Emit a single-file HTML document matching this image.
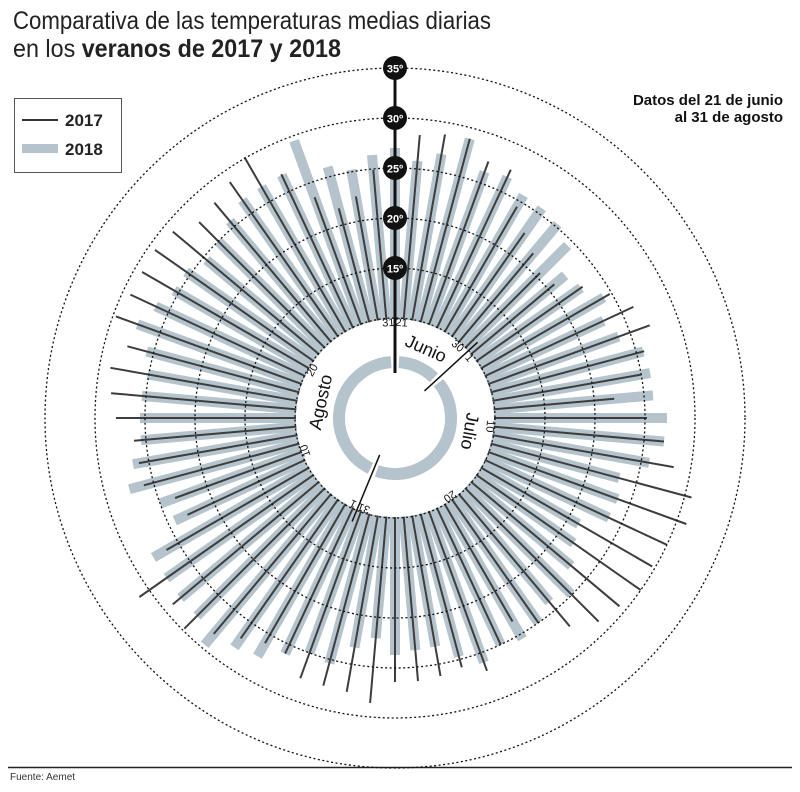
<!DOCTYPE html>
<html><head><meta charset="utf-8">
<style>
html,body{margin:0;padding:0;background:#fff;}
body{width:800px;height:792px;overflow:hidden;position:relative;font-family:"Liberation Sans",sans-serif;}
</style></head>
<body>
<svg id="s" width="800" height="792" viewBox="0 0 800 792" xmlns="http://www.w3.org/2000/svg" style="position:absolute;left:0;top:0">
<text x="13" y="29" font-size="25" fill="#222" font-family="Liberation Sans, sans-serif" style="font-weight:300" textLength="478" lengthAdjust="spacingAndGlyphs">Comparativa de las temperaturas medias diarias</text>
<text x="13" y="57" font-size="25" fill="#222" font-family="Liberation Sans, sans-serif" textLength="328" lengthAdjust="spacingAndGlyphs">en los <tspan font-weight="bold">veranos de 2017 y 2018</tspan></text>
<rect x="14.5" y="98.5" width="107" height="74" fill="none" stroke="#555" stroke-width="1"/>
<line x1="22" y1="120" x2="58" y2="120" stroke="#333" stroke-width="2"/>
<rect x="22" y="144" width="36" height="9" fill="#b5c3cc"/>
<text x="65" y="126" font-size="17" font-weight="bold" fill="#222">2017</text>
<text x="65" y="155" font-size="17" font-weight="bold" fill="#222">2018</text>
<text x="783" y="105" font-size="15" font-weight="bold" fill="#111" text-anchor="end">Datos del 21 de junio</text>
<text x="783" y="122" font-size="15" font-weight="bold" fill="#111" text-anchor="end">al 31 de agosto</text>
<line x1="8" y1="767.5" x2="792" y2="767.5" stroke="#222" stroke-width="1.5"/>
<text x="10" y="780" font-size="10" fill="#333">Fuente: Aemet</text>
<g id="c"></g>
</svg>
<script>
var a17=[26,28.4,28.8,28.9,27.3,27.4,24.4,22.6,21.5,20.5,20.8,22.9,24.8,26.3,27.1,25.8,25,22,25.2,27,28.3,30.7,31,30,29.7,30,29.3,28.8,27.2,25,23.5,25,26.9,25.8,26.2,26.4,26.4,28.6,27.8,27.7,27.7,26,26,26.9,28.2,29.8,29,31.2,26.4,22.9,23.4,26,26,26.2,27.9,28.5,28.9,27.7,29.7,29.2,29.2,29.3,29,27.7,28.1,28.8,30.1,26.9,23.5,21.7,22.5,24.9];
var a18=[27,25.8,26.8,28.9,26.2,26.6,25.7,25.6,25.3,24.4,22.2,22.7,24.1,23,23.8,25.7,25.9,25.9,27.2,27,25.8,23.2,23.7,23.6,21.2,21.8,23,24.9,24,25,25.5,25,26,24.7,23.2,23.3,23.7,22.1,23.3,25.4,25,26,27.5,28,29.6,28,28,27.9,27.9,24.3,25,27.5,26.6,25.5,25.5,25.4,25.1,25.7,27.4,26.4,25.5,25.5,24.6,25,25.7,26.6,26.7,26.8,29.5,26,25.2,26.4];
var cx=395,cy=418,h='';
function P(r,a){var t=a*Math.PI/180;return [cx+r*Math.sin(t),cy-r*Math.cos(t)];}
for(var i=0;i<72;i++){var a=i*5,p0=P(97,a),p1=P(a18[i]*10,a);
h+='<line x1="'+p0[0].toFixed(1)+'" y1="'+p0[1].toFixed(1)+'" x2="'+p1[0].toFixed(1)+'" y2="'+p1[1].toFixed(1)+'" stroke="#b5c3cc" stroke-width="10"/>';}
for(var i=0;i<72;i++){var a=i*5,p0=P(97,a),p1=P(a17[i]*10,a);
h+='<line x1="'+p0[0].toFixed(1)+'" y1="'+p0[1].toFixed(1)+'" x2="'+p1[0].toFixed(1)+'" y2="'+p1[1].toFixed(1)+'" stroke="#3d3d3d" stroke-width="2"/>';}
h+='<circle cx="'+cx+'" cy="'+cy+'" r="99" fill="#fff"/>';
[100,150,200,250,300,350].forEach(function(r){h+='<circle cx="'+cx+'" cy="'+cy+'" r="'+r+'" fill="none" stroke="#111" stroke-width="1.3" stroke-dasharray="2 2.5"/>';});
function arc(r1,a1,a2){var p=P(r1,a1),q=P(r1,a2);return 'M'+p[0]+' '+p[1]+' A'+r1+' '+r1+' 0 '+((a2-a1)>180?1:0)+' 1 '+q[0]+' '+q[1];}
[[4,44],[51,199],[206,356]].forEach(function(s){h+='<path d="'+arc(56,s[0],s[1])+'" fill="none" stroke="#b5c3cc" stroke-width="12"/>';});
[[47.5,40,112],[202.5,40,112]].forEach(function(s){var p=P(s[1],s[0]),q=P(s[2],s[0]);h+='<line x1="'+p[0]+'" y1="'+p[1]+'" x2="'+q[0]+'" y2="'+q[1]+'" stroke="#111" stroke-width="1.5"/>';});
h+='<line x1="'+cx+'" y1="'+(cy-45)+'" x2="'+cx+'" y2="'+(cy-350)+'" stroke="#111" stroke-width="3"/>';
[15,20,25,30,35].forEach(function(t){var y=cy-t*10;h+='<circle cx="'+cx+'" cy="'+y+'" r="12" fill="#111"/><text x="'+cx+'" y="'+(y+4.5)+'" font-size="11" font-weight="bold" fill="#fff" text-anchor="middle">'+t+'º</text>';});
function lab(txt,a,r,fs){var p=P(r,a);h+='<text x="0" y="0" font-size="'+fs+'" fill="#111" text-anchor="middle" transform="translate('+p[0].toFixed(1)+','+p[1].toFixed(1)+') rotate('+a+')">'+txt+'</text>';}
lab('21',4,92,11);lab('31',-4,92,11);lab('30',41,92,11);lab('1',51,92,11);lab('10',95,92,11);lab('20',145,92,11);lab('31',199,92,11);lab('1',206,92,11);lab('10',250,92,11);lab('20',300,92,11);
lab('Junio',24,70,18);lab('Julio',100,70,18);lab('Agosto',282,70,18);
document.getElementById('c').innerHTML=h;
</script>
</body></html>
